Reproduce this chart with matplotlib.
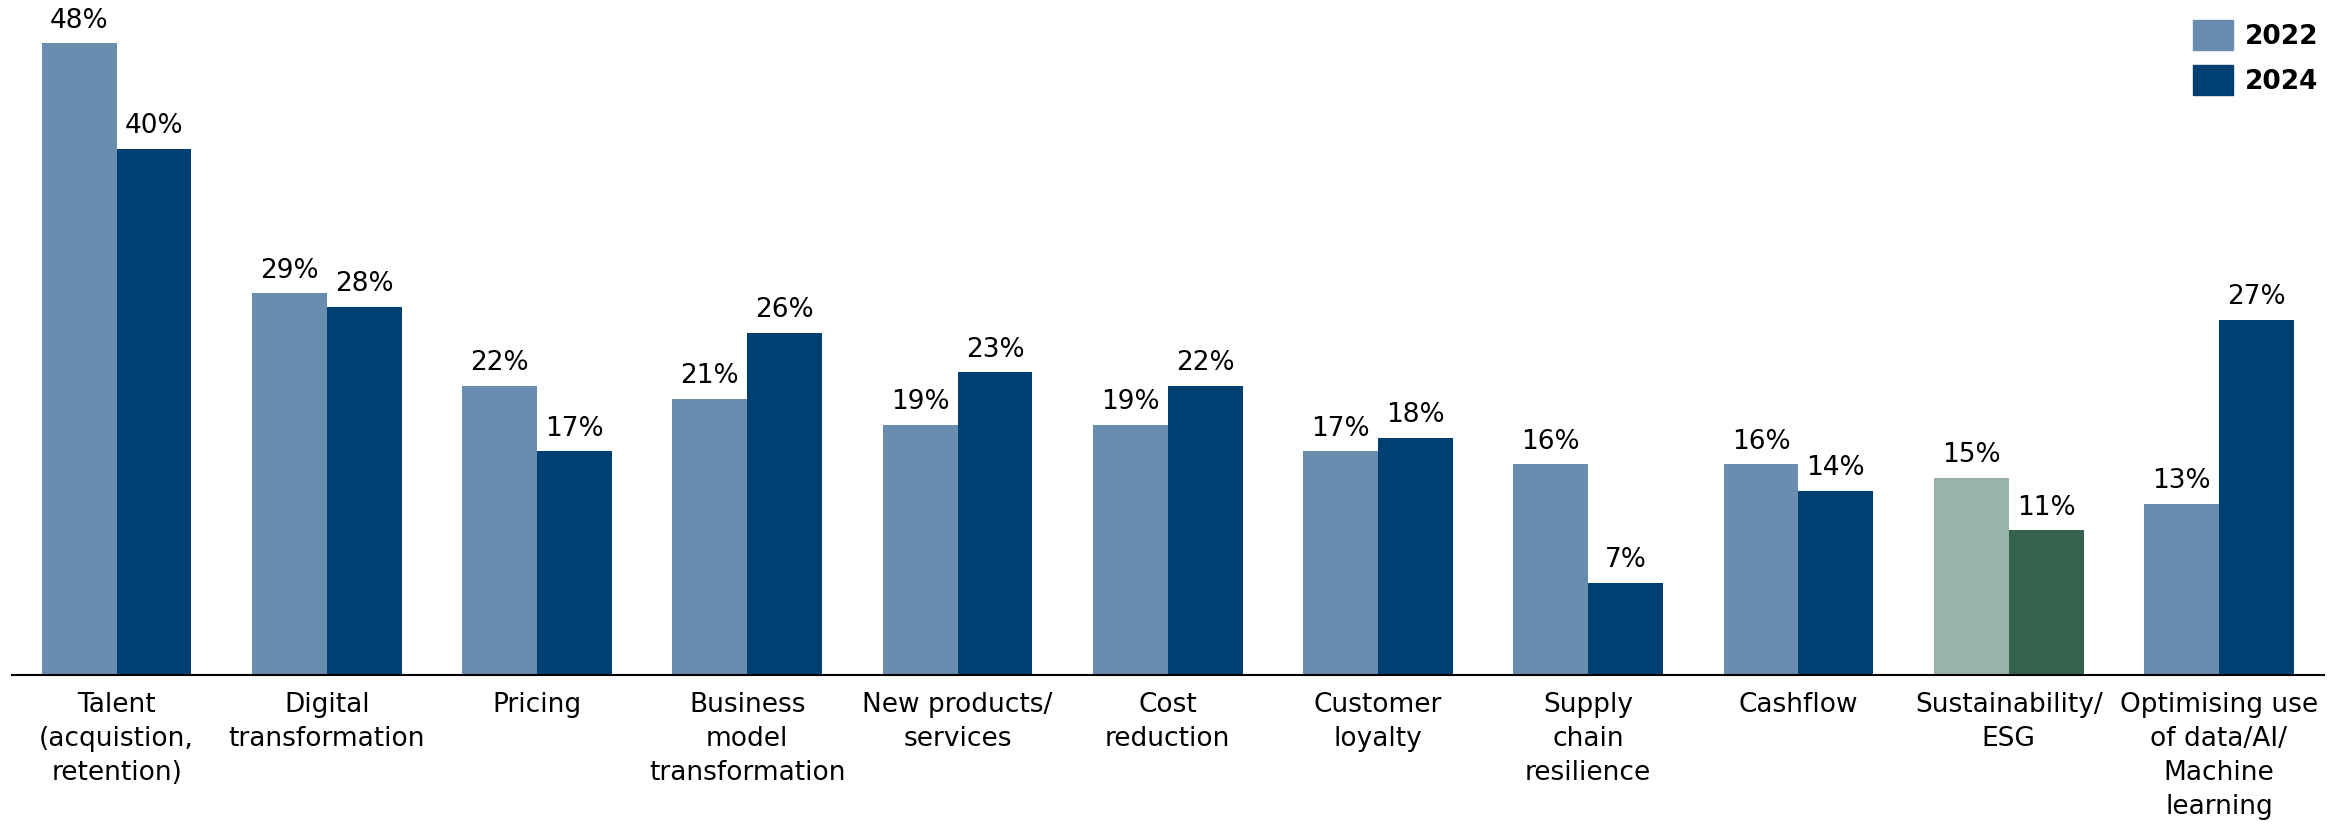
import matplotlib.pyplot as plt
import numpy as np
from matplotlib.patches import Patch

plt.rcParams['font.family'] = ['DejaVu Sans']

categories = [
    'Talent\n(acquistion,\nretention)',
    'Digital\ntransformation',
    'Pricing',
    'Business\nmodel\ntransformation',
    'New products/\nservices',
    'Cost\nreduction',
    'Customer\nloyalty',
    'Supply\nchain\nresilience',
    'Cashflow',
    'Sustainability/\nESG',
    'Optimising use\nof data/AI/\nMachine\nlearning',
]
vals_2022 = [48, 29, 22, 21, 19, 19, 17, 16, 16, 15, 13]
vals_2024 = [40, 28, 17, 26, 23, 22, 18, 7, 14, 11, 27]
years = ['2022', '2024']

# ESG pair is highlighted in green
highlight = 'Sustainability/\nESG'
blue_light, blue_dark = '#688DAE', '#003F72'
green_light, green_dark = '#9AB3A8', '#36634E'

W, H = 2346, 825
fig = plt.figure(figsize=(W / 100, H / 100), dpi=100)
ax = fig.add_axes([11.5 / W, 150 / H, 2312.5 / W, 675 / H])

x = np.arange(len(categories))
w = 0.356
c1 = [green_light if c == highlight else blue_light for c in categories]
c2 = [green_dark if c == highlight else blue_dark for c in categories]
b1 = ax.bar(x - w / 2, vals_2022, w, color=c1, linewidth=0)
b2 = ax.bar(x + w / 2, vals_2024, w, color=c2, linewidth=0)

for bars, vals in ((b1, vals_2022), (b2, vals_2024)):
    for rect, v in zip(bars, vals):
        ax.annotate(f'{v}%', (rect.get_x() + rect.get_width() / 2, v),
                    xytext=(0, 7), textcoords='offset points',
                    ha='center', va='bottom', fontsize=19)

ax.set_xlim(-0.5, len(categories) - 0.5)
ax.set_ylim(0, 51.3)
ax.set_xticks(x)
ax.set_xticklabels(categories, fontsize=19, linespacing=1.4, va='top')
ax.tick_params(axis='x', length=0, pad=12)
ax.set_yticks([])
for s in ('top', 'right', 'left'):
    ax.spines[s].set_visible(False)
ax.spines['bottom'].set_linewidth(1.5)
ax.spines['bottom'].set_color('black')

handles = [Patch(color=blue_light), Patch(color=blue_dark)]
fig.legend(handles, years, loc='upper right', bbox_to_anchor=(2318 / W, 1 - 20 / H),
           frameon=False, prop={'size': 19, 'weight': 'bold'},
           handlelength=1.52, handleheight=1.35, handletextpad=0.45,
           labelspacing=0.6, borderpad=0, borderaxespad=0)

fig.savefig('out.png', dpi=100)
